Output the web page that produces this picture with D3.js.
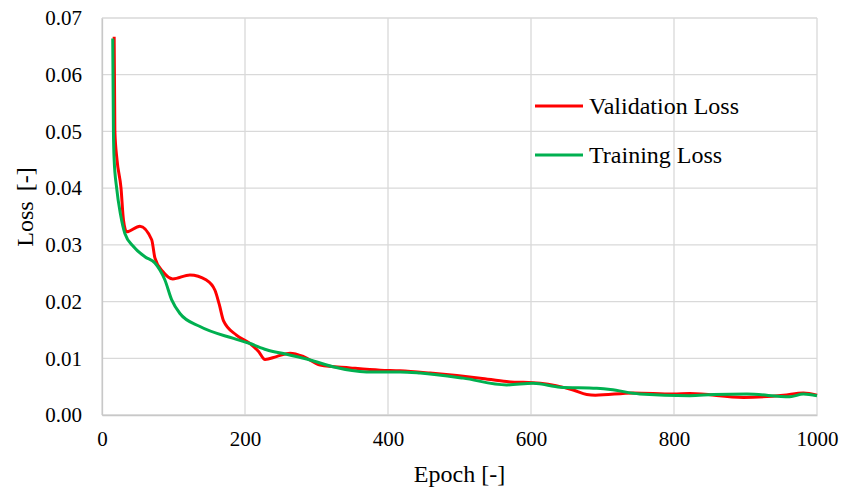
<!DOCTYPE html>
<html>
<head>
<meta charset="utf-8">
<script src="https://cdn.jsdelivr.net/npm/d3@7"></script>
<style>
  body { margin: 0; background: #fff; }
  svg { display: block; font-family: "Liberation Serif", "Times New Roman", serif; }
</style>
</head>
<body>
<script>
const valEpoch = [17, 18, 21, 26.6, 30, 34.5, 53, 69.5, 74, 85, 99, 123, 146, 158, 164, 170, 188, 207, 219, 228, 244, 263, 282, 305, 347, 389, 417, 459, 529, 566, 613, 659, 678, 690, 743, 799, 822, 897, 953, 981, 1000];
const valLoss = [0.0667, 0.05, 0.045, 0.04, 0.0344, 0.0323, 0.0333, 0.0309, 0.0277, 0.0253, 0.024, 0.0247, 0.0238, 0.022, 0.0195, 0.0166, 0.0141, 0.0126, 0.0112, 0.0098, 0.0103, 0.0109, 0.0103, 0.0088, 0.0083, 0.0079, 0.0078, 0.0074, 0.0065, 0.0059, 0.0056, 0.0044, 0.0036, 0.0035, 0.0039, 0.0037, 0.0038, 0.0031, 0.0035, 0.0039, 0.0035];

const trainEpoch = [15, 16, 17, 20.5, 26, 32, 44, 60, 74, 88, 97.5, 109, 137, 184, 207, 230, 258, 291, 323, 370, 417, 445, 505, 566, 603, 641, 692, 711, 752, 822, 855, 902, 962, 981, 1000];
const trainLoss = [0.0664, 0.05, 0.045, 0.04, 0.0353, 0.032, 0.0297, 0.0279, 0.0268, 0.0238, 0.0203, 0.0179, 0.0156, 0.0135, 0.0126, 0.0115, 0.0107, 0.0097, 0.0085, 0.0076, 0.0076, 0.0074, 0.0065, 0.0053, 0.0056, 0.0049, 0.0047, 0.0045, 0.0037, 0.0034, 0.0036, 0.0037, 0.0032, 0.0037, 0.0034];

const xTicks = [0, 200, 400, 600, 800, 1000];
const yTicks = [0, 0.01, 0.02, 0.03, 0.04, 0.05, 0.06, 0.07];

const width = 841;
const height = 490;
const plotLeft = 102, plotRight = 817, plotTop = 18, plotBottom = 415;

const svg = d3.select("body").append("svg")
  .attr("width", width)
  .attr("height", height);

const xScale = d3.scaleLinear().domain([0, 1000]).range([plotLeft, plotRight]);
const yScale = d3.scaleLinear().domain([0, 0.07]).range([plotBottom, plotTop]);

// grid
const grid = svg.append("g");
grid.selectAll(".h").data(yTicks).enter().append("line")
  .attr("x1", plotLeft).attr("x2", plotRight)
  .attr("y1", (d) => yScale(d)).attr("y2", (d) => yScale(d))
  .attr("stroke", "#d9d9d9").attr("stroke-width", 1.3);
grid.selectAll(".v").data(xTicks).enter().append("line")
  .attr("y1", plotTop).attr("y2", plotBottom)
  .attr("x1", (d) => xScale(d)).attr("x2", (d) => xScale(d))
  .attr("stroke", "#d9d9d9").attr("stroke-width", 1.3);

// axes
const xAxis = d3.axisBottom(xScale).tickValues(xTicks).tickSize(0).tickPadding(16).tickFormat(d3.format("d"));
const yAxis = d3.axisLeft(yScale).tickValues(yTicks).tickSize(0).tickPadding(20).tickFormat(d3.format(".2f"));

const gx = svg.append("g").attr("transform", `translate(0 ${plotBottom})`).call(xAxis);
const gy = svg.append("g").attr("transform", `translate(${plotLeft} 0)`).call(yAxis);
[gx, gy].forEach((g) => {
  g.select(".domain").attr("stroke", "#c8c8c8").attr("stroke-width", 1.3);
  g.selectAll("text").attr("font-size", 21).attr("fill", "#000")
    .attr("font-family", "Liberation Serif, serif");
});

// lines
const line = d3.line()
  .x((d) => xScale(d[0]))
  .y((d) => yScale(d[1]))
  .curve(d3.curveMonotoneX);

const series = [
  { name: "Validation Loss", color: "#ff0000", data: d3.zip(valEpoch, valLoss) },
  { name: "Training Loss", color: "#00b050", data: d3.zip(trainEpoch, trainLoss) },
];

series.forEach((s) => {
  svg.append("path")
    .datum(s.data)
    .attr("fill", "none").attr("stroke", s.color)
    .attr("stroke-width", 3).attr("stroke-linejoin", "round")
    .attr("d", line);
});

// legend
const legend = svg.append("g").attr("transform", "translate(535 106)");
series.forEach((s, i) => {
  const g = legend.append("g").attr("transform", `translate(0 ${i * 49})`);
  g.append("line").attr("x1", 0).attr("x2", 48).attr("y1", 0).attr("y2", 0)
    .attr("stroke", s.color).attr("stroke-width", 3);
  g.append("text").attr("x", 54).attr("y", 8).attr("font-size", 24)
    .attr("fill", "#000").text(s.name);
});

// axis titles
svg.append("text")
  .attr("x", (plotLeft + plotRight) / 2).attr("y", 482)
  .attr("text-anchor", "middle").attr("font-size", 24).attr("fill", "#000")
  .text("Epoch [-]");

const yTitle = svg.append("text")
  .attr("transform", `translate(33 207) rotate(-90)`)
  .attr("text-anchor", "middle").attr("font-size", 24).attr("fill", "#000");
yTitle.append("tspan").text("Loss");
yTitle.append("tspan").attr("dx", 10).text("[-]");
</script>
</body>
</html>
